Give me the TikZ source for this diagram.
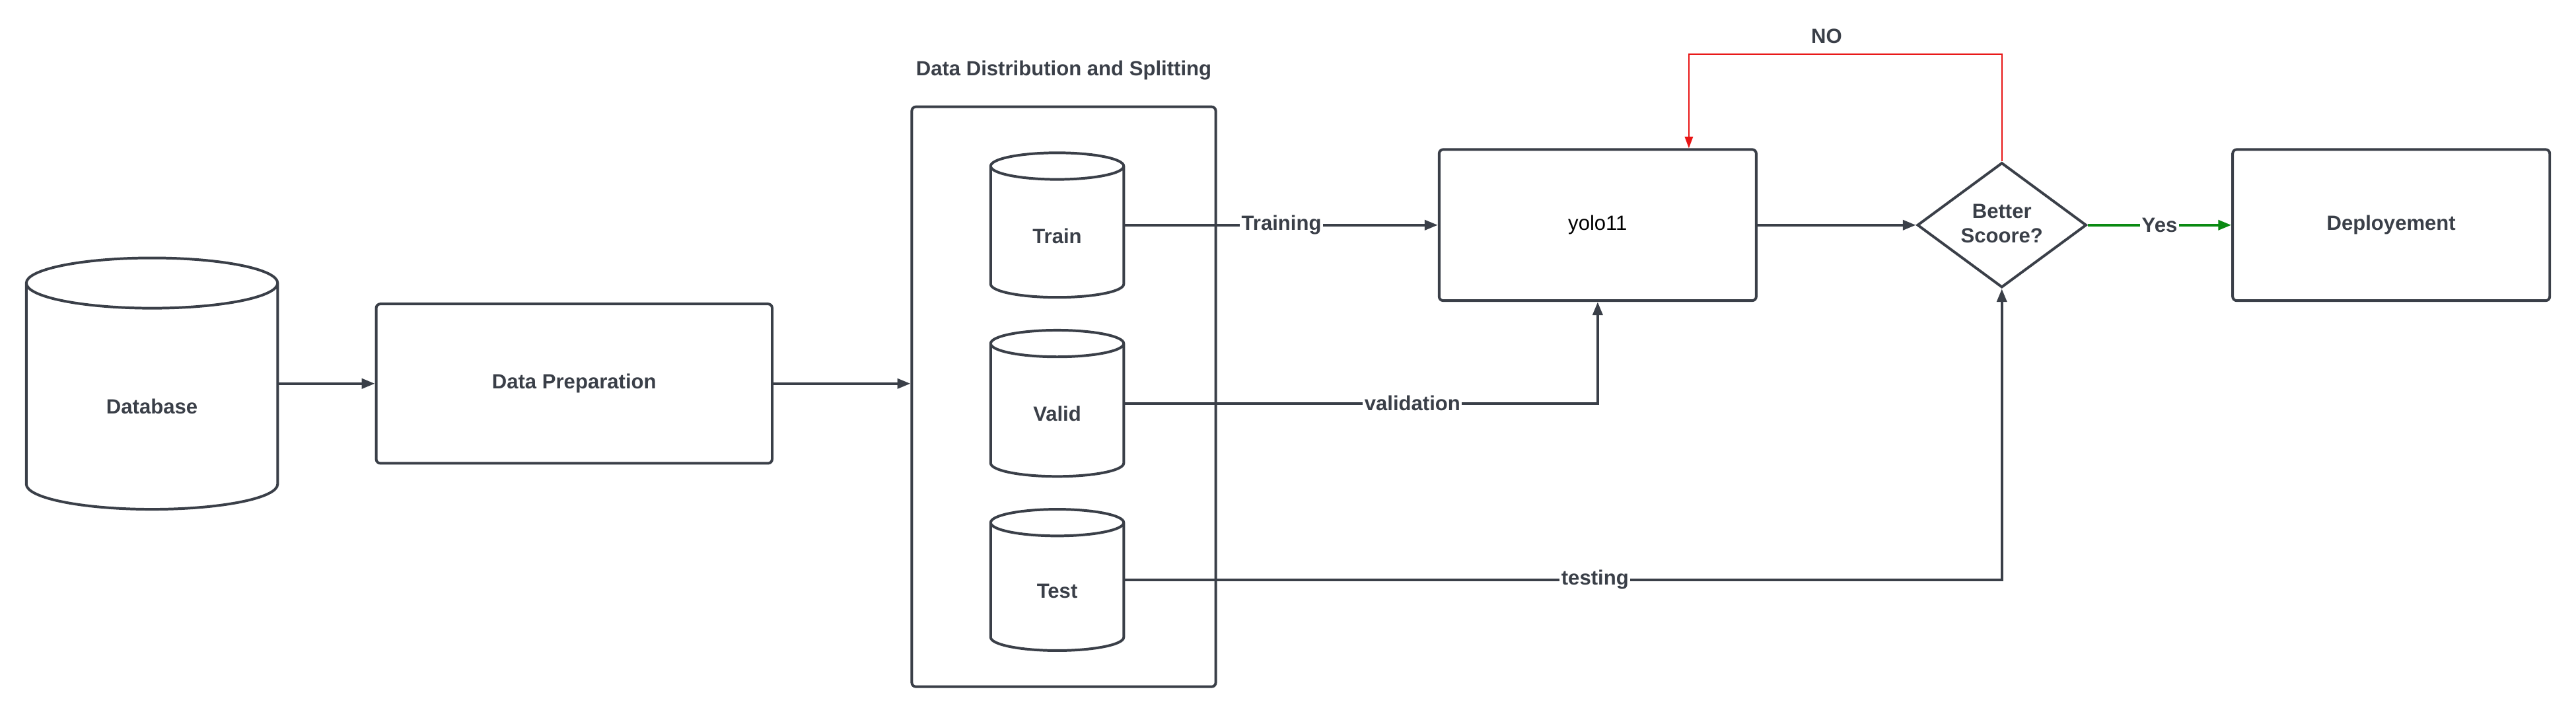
\documentclass[tikz,border=0pt]{standalone}
\usepackage{fontspec}
\setmainfont{Liberation Sans}
\usepackage{tikz}
\usetikzlibrary{shapes.geometric,arrows.meta}
\usepackage{xcolor}
\definecolor{ink}{HTML}{3A3F48}
\definecolor{noRed}{HTML}{E81515}
\definecolor{yesGreen}{HTML}{0A8A12}

\begin{document}
\begin{tikzpicture}[x=1pt,y=-1pt,
    font=\fontsize{12.5}{15}\selectfont\bfseries, text=ink,
    box/.style={draw=ink,line width=1.6pt,rounded corners=2.5pt,inner sep=0pt},
    db/.style={cylinder,shape border rotate=90,aspect=0.2,draw=ink,line width=1.6pt,inner sep=0pt,
        anchor=shape center,align=center,text width=#1,minimum width=#1,text depth=0pt},
    flecha/.style={draw=ink,line width=1.6pt,-{Triangle[length=8pt,width=6pt]}},
    flechano/.style={draw=noRed,line width=0.7pt,-{Triangle[length=7pt,width=5pt]}},
    etiqueta/.style={fill=white,inner sep=1pt}]
            \useasboundingbox (0,0) rectangle (1568,434.6);
            % bloques
            \node[db=153pt,minimum height=153pt,text height=21pt] (database) at (92.5,233.5) {Database};
            \node[box,minimum width=241pt,minimum height=97pt] (prep) at (349.5,233.5) {Data Preparation};
            \node[box,minimum width=185pt,minimum height=353pt] (split) at (647.5,241.5) {};
            \node (splitTitle) at (647.5,43) {Data Distribution and Splitting};
            \node[db=81pt,minimum height=88pt,text height=13pt] (train) at (643.5,137) {Train};
            \node[db=81pt,minimum height=89pt,text height=13pt] (valid) at (643.5,245.5) {Valid};
            \node[db=81pt,minimum height=86pt,text height=13pt] (test) at (643.5,353) {Test};
            \node[box,minimum width=193pt,minimum height=92pt,font=\fontsize{12.5}{15}\selectfont,text=black] (yolo) at (972.5,137) {yolo11};
            \node[diamond,draw=ink,line width=1.6pt,minimum width=103pt,minimum height=76pt,inner sep=0pt,align=center,text depth=2pt] (score) at (1218.5,137) {Better\\Scoore?};
            \node[box,minimum width=193pt,minimum height=92pt] (deploy) at (1455.5,137) {Deployement};
            \coordinate (noCorner) at (1028,33);
            % flechas
            \draw[flecha] (database.east |- prep.west) -- (prep.west);
            \draw[flecha] (prep.east) -- (prep.east -| split.west);
            \draw[flecha] (train.east |- yolo.west) -- node[etiqueta] {Training} (yolo.west);
            \draw[flecha] (valid.shape center -| valid.east) -| node[etiqueta,pos=0.304] {validation} (yolo.south);
            \draw[flecha] (test.shape center -| test.east) -| node[etiqueta,pos=0.268] {testing} (score.south);
            \draw[flecha] (yolo.east) -- (yolo.east -| score.west);
            \draw[flecha,draw=yesGreen] (score.east |- deploy.west) -- node[etiqueta] {Yes} (deploy.west);
            \draw[flechano] (score.north) |- node[pos=0.78,above=3pt] {NO} (noCorner) -- (noCorner |- yolo.north);
\end{tikzpicture}
\end{document}
